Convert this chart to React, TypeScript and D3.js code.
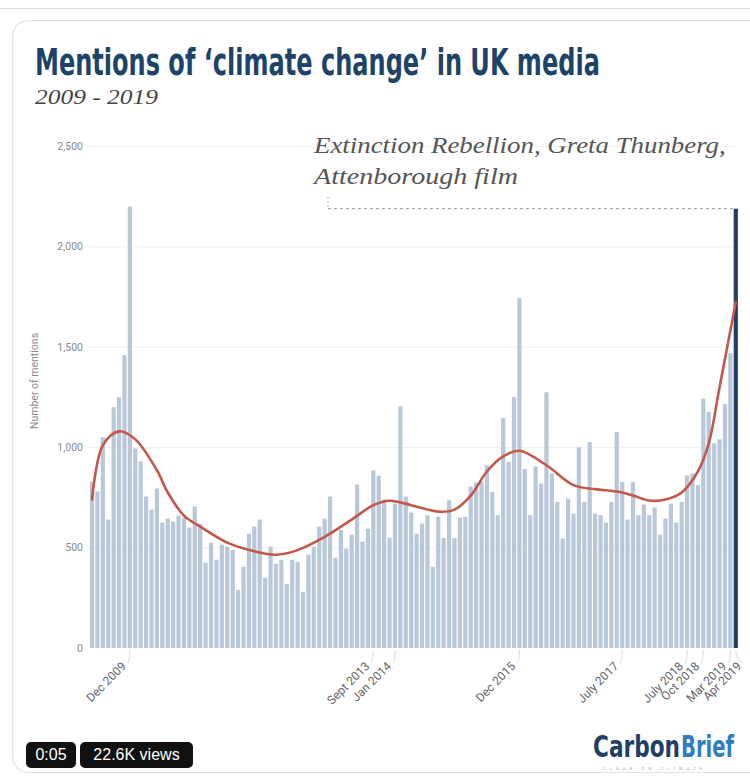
import React, { useLayoutEffect, useRef, useState } from 'react';
import * as d3 from 'd3';

// ---- data ----
const MONTHS: Date[] = d3.timeMonth.range(new Date(2009, 4, 1), new Date(2019, 4, 1)); // May 2009 .. Apr 2019
const MENTIONS: number[] = [
  830, 780, 1050, 640, 1200, 1250, 1460, 2200, 995, 930,
  755, 690, 795, 625, 645, 630, 660, 650, 600, 705,
  620, 425, 525, 440, 515, 505, 490, 290, 405, 570,
  605, 640, 350, 505, 420, 440, 320, 440, 430, 280,
  465, 505, 605, 645, 755, 450, 590, 495, 565, 815,
  530, 595, 885, 860, 740, 550, 720, 1205, 755, 675,
  570, 620, 662, 405, 655, 548, 737, 548, 650, 654,
  805, 825, 830, 911, 778, 662, 1146, 928, 1251, 1745,
  892, 662, 905, 820, 1275, 870, 728, 546, 745, 670,
  1000, 728, 1027, 670, 662, 625, 728, 1077, 828, 640,
  828, 662, 715, 662, 700, 565, 645, 720, 625, 728,
  860, 870, 812, 1243, 1177, 1020, 1040, 1216, 1470, 2190,
];
const TREND_IDX: number[] = [0, 2, 5, 8, 12, 14, 17, 20, 25, 30, 34, 38, 43, 48, 52, 55, 59, 64, 67, 70, 73, 76, 79, 84, 89, 93, 97, 100, 103, 106, 109, 112, 114, 116, 119];
const TREND_VAL: number[] = [740, 1010, 1080, 1040, 886, 775, 660, 605, 525, 482, 465, 488, 554, 640, 712, 734, 712, 680, 690, 760, 880, 955, 983, 911, 812, 792, 780, 760, 735, 740, 775, 880, 1020, 1300, 1725];
const Y_TICKS: number[] = [0, 500, 1000, 1500, 2000, 2500];
const X_LABELS: string[] = ['Dec 2009', 'Sept 2013', 'Jan 2014', 'Dec 2015', 'July 2017', 'July 2018', 'Oct 2018', 'Mar 2019', 'Apr 2019'];
const X_LABEL_IDX: number[] = [7, 52, 56, 79, 98, 110, 113, 118, 119];
const TITLE = 'Mentions of \u2018climate change\u2019 in UK media';
const SUBTITLE = '2009 - 2019';
const NOTE_1 = 'Extinction Rebellion, Greta Thunberg,';
const NOTE_2 = 'Attenborough film';

const W = 750;
const H = 776;

// text drawn at a fixed font size, squeezed horizontally so that it spans `width`
function SqueezeText(props: { x: number; y: number; width: number; size: number; children: string; [k: string]: any }) {
  const { x, y, width, size, children, ...rest } = props;
  const ref = useRef<SVGTextElement>(null);
  const [sx, setSx] = useState(1);
  useLayoutEffect(() => {
    const el = ref.current;
    if (!el) return;
    const w = el.getComputedTextLength();
    if (w > 0) {
      const next = width / w;
      if (Math.abs(next - sx) > 0.002) setSx(next);
    }
  }, [width, size, children]);
  return (
    <text ref={ref} x={0} y={0} fontSize={size} transform={`translate(${x},${y}) scale(${sx},1)`} {...rest}>
      {children}
    </text>
  );
}

export default function App() {
  const keys = MONTHS.map((d) => d3.timeFormat('%Y-%m')(d));
  const x = d3.scaleBand<string>().domain(keys).range([89.35, 738.45]).paddingInner(0.22).paddingOuter(0.1);
  const y = d3.scaleLinear().domain([0, 2500]).range([648, 146.5]);
  const cx = (i: number) => (x(keys[i]) as number) + x.bandwidth() / 2;
  const last = MENTIONS.length - 1;

  const trendPts: [number, number][] = TREND_IDX.map((i, k) => [cx(i), y(TREND_VAL[k])]);
  const trendPath = d3.line().curve(d3.curveCatmullRom.alpha(0.5))(trendPts) || '';

  // label end positions, spread so that neighbouring rotated labels do not collide
  const labelEnds: number[] = [];
  X_LABEL_IDX.forEach((idx, k) => {
    let e = cx(idx) - 3;
    if (k > 0 && e - labelEnds[k - 1] < 15) e = labelEnds[k - 1] + 15;
    labelEnds.push(e);
  });

  const condensed = "'Liberation Sans Narrow', 'DejaVu Sans Condensed', 'Roboto Condensed', Roboto, sans-serif";
  const serif = "'Liberation Serif', 'DejaVu Serif', serif";
  const sans = "Roboto, 'Open Sans', 'Liberation Sans', sans-serif";

  return (
    <svg width={W} height={H} style={{ position: 'absolute', left: 0, top: 0, background: '#fff' }}>
      {/* frame */}
      <line x1={0} x2={W} y1={8.5} y2={8.5} stroke="#dcdcdc" strokeWidth={1} />
      <rect x={12.5} y={20.5} width={800} height={752} rx={16} fill="#fff" stroke="#e2e2e2" strokeWidth={1.2} />

      {/* title */}
      <SqueezeText x={35} y={75} width={565} size={37} fontFamily={condensed} fontWeight={700} fill="#1d4468">{TITLE}</SqueezeText>
      <SqueezeText x={35} y={104} width={123} size={22} fontFamily={serif} fontStyle="italic" fill="#444">{SUBTITLE}</SqueezeText>

      {/* gridlines & y ticks */}
      {Y_TICKS.map((t) => (
        <g key={t}>
          {t > 0 && <line x1={88} x2={737} y1={y(t)} y2={y(t)} stroke="#efefef" strokeWidth={1} />}
          <text x={83} y={y(t)} dy="0.35em" textAnchor="end" fontFamily={sans} fontSize={10.5} fill="#8a8a8a">
            {d3.format(',')(t)}
          </text>
        </g>
      ))}
      <text x={0} y={0} transform={`translate(38 381) rotate(-90)`} textAnchor="middle" fontFamily={sans} fontSize={10.5} fill="#8a8a8a">
        Number of mentions
      </text>

      {/* bars */}
      {MENTIONS.map((v, i) => (
        <rect key={keys[i]} x={x(keys[i])} y={y(v)} width={x.bandwidth()} height={y(0) - y(v)}
          fill={i === last ? '#1f3f63' : '#b9c8d9'} />
      ))}

      {/* trend */}
      <path d={trendPath} fill="none" stroke="#c4574a" strokeWidth={2.6} strokeLinecap="round" />

      {/* annotation */}
      <SqueezeText x={314} y={153} width={412} size={24} fontFamily={serif} fontStyle="italic" fill="#555">{NOTE_1}</SqueezeText>
      <SqueezeText x={314} y={184} width={204} size={24} fontFamily={serif} fontStyle="italic" fill="#555">{NOTE_2}</SqueezeText>
      <line x1={328} x2={cx(last)} y1={y(MENTIONS[last])} y2={y(MENTIONS[last])} stroke="#9a9a9a" strokeWidth={1} strokeDasharray="3,3" />
      <line x1={328} x2={328} y1={197} y2={y(MENTIONS[last])} stroke="#9a9a9a" strokeWidth={1} strokeDasharray="1.5,2.5" />

      {/* x labels */}
      {X_LABELS.map((lab, k) => {
        const bx = cx(X_LABEL_IDX[k]);
        const ex = labelEnds[k];
        const ey = 667;
        return (
          <g key={lab}>
            <path d={`M${bx},650 Q${bx},660 ${ex + 1},663`} fill="none" stroke="#d0d0d0" strokeWidth={0.8} />
            <g transform={`translate(${ex},${ey})`}>
              <g transform="rotate(-45)">
                <text x={0} y={0} textAnchor="end" fontFamily={sans} fontSize={12} fill="#666">{lab}</text>
              </g>
            </g>
          </g>
        );
      })}

      {/* video badges */}
      <rect x={26} y={742} width={50} height={26} rx={5} fill="#111" />
      <text x={51} y={760} textAnchor="middle" fontFamily="'Liberation Sans', Arial, sans-serif" fontSize={16} fill="#fff">0:05</text>
      <rect x={80} y={742} width={113} height={26} rx={5} fill="#111" />
      <text x={136.5} y={760} textAnchor="middle" fontFamily="'Liberation Sans', Arial, sans-serif" fontSize={16} fill="#fff">22.6K views</text>

      {/* logo */}
      <SqueezeText x={593} y={757} width={87} size={31} fontFamily={condensed} fontWeight={700} fill="#1e3f66">Carbon</SqueezeText>
      <SqueezeText x={681} y={757} width={53} size={31} fontFamily={condensed} fontWeight={700} fill="#2f7dc0">Brief</SqueezeText>
      <text x={603} y={770} fontFamily={sans} fontSize={4} fill="#a0a8ad" letterSpacing={4.2}>
        CLEAR ON CLIMATE
      </text>
    </svg>
  );
}
